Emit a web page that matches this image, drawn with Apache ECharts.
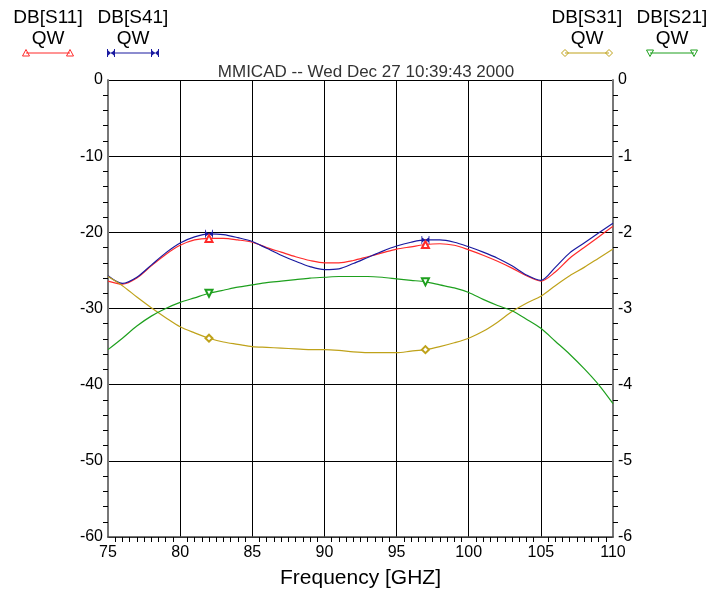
<!DOCTYPE html>
<html>
<head>
<meta charset="utf-8">
<script src="https://cdn.jsdelivr.net/npm/echarts@6/dist/echarts.min.js"></script>
<style>
  html, body { margin: 0; padding: 0; background: #fff; }
  #chart { width: 711px; height: 596px; }
</style>
</head>
<body>
<div id="chart"></div>
<script>
// frequency points (GHz), 1 GHz step
const freq = [75, 76, 77, 78, 79, 80, 81, 82, 83, 84, 85, 86, 87, 88, 89, 90, 91, 92,
  93, 94, 95, 96, 97, 98, 99, 100, 101, 102, 103, 104, 105, 106, 107, 108, 109, 110]
// left axis (dB)
const s11 = [-26.4, -26.8, -26.0, -24.4, -22.9, -21.7, -21.0, -20.8, -20.8, -21.0, -21.3, -22.0,
  -22.6, -23.2, -23.7, -24.0, -24.0, -23.7, -23.2, -22.7, -22.2, -21.9, -21.6, -21.5,
  -21.7, -22.3, -23.0, -23.8, -24.7, -25.7, -26.4, -25.2, -23.4, -22.0, -20.6, -19.2]
const s41 = [-25.7, -26.7, -25.9, -24.3, -22.7, -21.4, -20.6, -20.2, -20.3, -20.7, -21.2, -22.1,
  -23.0, -23.8, -24.5, -24.9, -24.8, -24.1, -23.3, -22.5, -21.8, -21.3, -21.0, -21.0,
  -21.3, -21.9, -22.6, -23.4, -24.4, -25.6, -26.3, -24.6, -22.7, -21.4, -20.1, -18.8]
// right axis (dB)
const s31 = [-2.58, -2.70, -2.85, -2.99, -3.12, -3.24, -3.32, -3.39, -3.44, -3.47, -3.50, -3.51,
  -3.52, -3.53, -3.54, -3.54, -3.55, -3.57, -3.58, -3.58, -3.58, -3.56, -3.54, -3.50,
  -3.45, -3.39, -3.30, -3.18, -3.04, -2.93, -2.84, -2.70, -2.57, -2.46, -2.34, -2.22]
const s21 = [-3.54, -3.39, -3.23, -3.10, -3.00, -2.92, -2.86, -2.80, -2.76, -2.72, -2.69, -2.66,
  -2.64, -2.62, -2.60, -2.59, -2.58, -2.58, -2.58, -2.59, -2.61, -2.63, -2.65, -2.69,
  -2.73, -2.79, -2.88, -2.96, -3.03, -3.14, -3.26, -3.43, -3.60, -3.79, -4.00, -4.25]
// frequencies that carry a marker
const markAt = [82, 97]

const leftTicks = { min: -60, max: 0, interval: 10 }
const rightTicks = { min: -6, max: 0, interval: 1 }

const bowtie = 'path://M0,0L0,10L1,10L1,0ZM9,0L9,10L10,10L10,0ZM1,2L5,5L1,8ZM9,2L5,5L9,8Z'

const traces = [
  { name: 'DB[S11]', values: s11, axis: 0, color: '#ff2a2a', symbol: 'emptyTriangle', rotate: 0, size: 7, kind: 'up' },
  { name: 'DB[S41]', values: s41, axis: 0, color: '#1a1aa0', symbol: bowtie, rotate: 0, size: 8, kind: 'bow' },
  { name: 'DB[S31]', values: s31, axis: 1, color: '#bfa21a', symbol: 'emptyDiamond', rotate: 0, size: 7, kind: 'diamond' },
  { name: 'DB[S21]', values: s21, axis: 1, color: '#1ea01e', symbol: 'emptyTriangle', rotate: 180, size: 7, kind: 'down' }
]

const legendPos = [48, 133, 587, 672]

const font = 'Liberation Sans, Arial, sans-serif'

const series = traces.map(t => ({
  name: t.name,
  type: 'line',
  yAxisIndex: t.axis,
  smooth: 0.3,
  symbol: 'none',
  showAllSymbol: true,
  animation: false,
  lineStyle: { color: t.color, width: 1.2 },
  itemStyle: { color: t.color },
  data: freq.map((f, i) => {
    const item = { value: [f, t.values[i]] }
    if (markAt.indexOf(f) >= 0) {
      item.symbol = t.symbol
      item.symbolSize = t.size
      item.symbolRotate = t.rotate
    }
    return item
  })
}))

// small legend glyphs at both ends of each sample line
function legendMarker (kind, x, y, color) {
  const st = { stroke: color, fill: 'none', lineWidth: 1 }
  if (kind === 'up') return { type: 'polygon', shape: { points: [[x - 3.5, y + 3], [x + 3.5, y + 3], [x, y - 3.5]] }, style: st }
  if (kind === 'down') return { type: 'polygon', shape: { points: [[x - 3.5, y - 3], [x + 3.5, y - 3], [x, y + 3.5]] }, style: st }
  if (kind === 'diamond') return { type: 'polygon', shape: { points: [[x - 3.5, y], [x, y - 3.5], [x + 3.5, y], [x, y + 3.5]] }, style: st }
  return {
    type: 'group',
    children: [
      { type: 'line', shape: { x1: x - 3.5, y1: y - 4, x2: x - 3.5, y2: y + 4 }, style: st },
      { type: 'line', shape: { x1: x + 3.5, y1: y - 4, x2: x + 3.5, y2: y + 4 }, style: st },
      { type: 'polygon', shape: { points: [[x - 3.5, y - 3], [x, y], [x - 3.5, y + 3]] }, style: { fill: color } },
      { type: 'polygon', shape: { points: [[x + 3.5, y - 3], [x, y], [x + 3.5, y + 3]] }, style: { fill: color } }
    ]
  }
}

const graphic = []
traces.forEach((t, i) => {
  const cx = legendPos[i]
  graphic.push({
    type: 'text',
    style: { x: cx, y: 18, text: t.name, textAlign: 'center', textVerticalAlign: 'middle', fontSize: 19, fontFamily: font, fill: '#000' }
  })
  graphic.push({
    type: 'text',
    style: { x: cx, y: 39, text: 'QW', textAlign: 'center', textVerticalAlign: 'middle', fontSize: 19, fontFamily: font, fill: '#000' }
  })
  graphic.push({
    type: 'line',
    shape: { x1: cx - 22, y1: 53, x2: cx + 22, y2: 53 },
    style: { stroke: t.color, lineWidth: 1.2 }
  })
  graphic.push(legendMarker(t.kind, cx - 22, 53, t.color))
  graphic.push(legendMarker(t.kind, cx + 22, 53, t.color))
})

const labelStyle = { color: '#000', fontSize: 16, fontFamily: font, margin: 5 }

const option = {
  backgroundColor: '#fff',
  animation: false,
  title: {
    text: 'MMICAD -- Wed Dec 27 10:39:43 2000',
    left: 361, top: 59, textAlign: 'center',
    textStyle: { fontSize: 17, fontWeight: 'normal', color: '#333', fontFamily: font }
  },
  grid: { left: 108, right: 98, top: 80, bottom: 59, containLabel: false },
  xAxis: {
    type: 'value',
    min: 75,
    max: 110,
    interval: 5,
    name: 'Frequency [GHZ]',
    nameLocation: 'middle',
    nameGap: 31,
    nameTextStyle: { fontSize: 21, color: '#000', fontFamily: font },
    axisLine: { show: true, onZero: false, lineStyle: { color: '#444', width: 1.5 } },
    axisTick: { show: false },
    axisLabel: Object.assign({}, labelStyle, { margin: 8 }),
    minorTick: { show: true, inside: true, splitNumber: 10, length: 5, lineStyle: { color: '#000' } },
    splitLine: { show: true, lineStyle: { color: '#000', width: 1 } }
  },
  yAxis: [
    Object.assign({}, leftTicks, {
      type: 'value',
      position: 'left',
      axisLine: { show: true, onZero: false, lineStyle: { color: '#777', width: 2 } },
      axisTick: { show: false },
      axisLabel: labelStyle,
      minorTick: { show: true, inside: true, splitNumber: 5, length: 5, lineStyle: { color: '#000' } },
      splitLine: { show: true, lineStyle: { color: '#000', width: 1 } }
    }),
    Object.assign({}, rightTicks, {
      type: 'value',
      position: 'right',
      axisLine: { show: true, onZero: false, lineStyle: { color: '#777', width: 2 } },
      axisTick: { show: false },
      axisLabel: labelStyle,
      minorTick: { show: true, inside: true, splitNumber: 5, length: 5, lineStyle: { color: '#000' } },
      splitLine: { show: false }
    })
  ],
  graphic,
  series
}

const myChart = echarts.init(document.getElementById('chart'))
myChart.setOption(option)
</script>
</body>
</html>
